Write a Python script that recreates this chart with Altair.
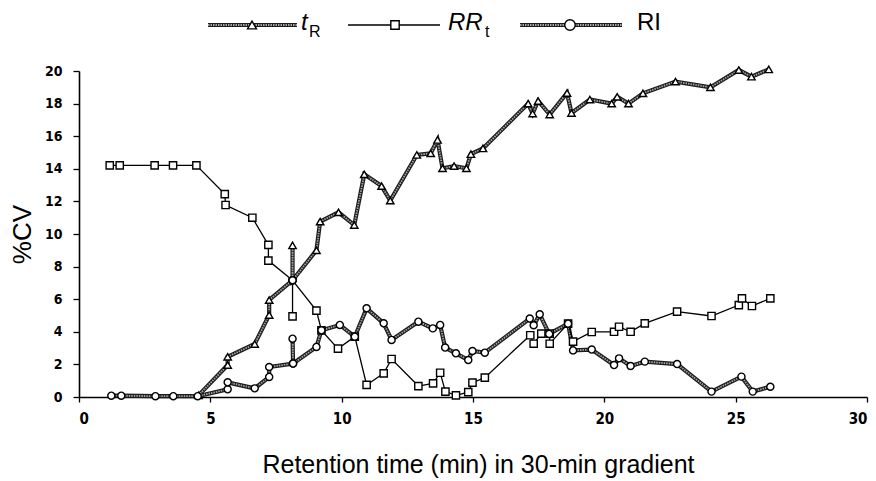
import altair as alt
import pandas as pd

# ---- data (retention time in min, %CV) ----
tr_time = [4.55, 5.66, 5.66, 6.69, 7.24, 7.24, 8.13, 8.13, 8.13, 9.04, 9.18, 9.88,
           10.48, 10.86, 11.52, 11.85, 12.86, 13.39, 13.65, 13.84, 14.28, 14.75,
           14.92, 15.38, 17.1, 17.27, 17.48, 17.92, 18.58, 18.75, 19.45, 20.28,
           20.49, 20.92, 21.47, 22.71, 24.04, 25.12, 25.6, 26.26]
tr_cv = [0.1, 1.96, 2.47, 3.25, 5.03, 5.95, 7.16, 9.3, 7.16, 9.0, 10.76, 11.33,
         10.55, 13.66, 12.94, 12.05, 14.85, 14.95, 15.77, 14.03, 14.17, 14.03,
         14.9, 15.25, 18.0, 17.39, 18.16, 17.33, 18.65, 17.42, 18.25, 18.0,
         18.42, 18.0, 18.63, 19.35, 19.0, 20.06, 19.65, 20.1]

rr_time = [1.17, 1.55, 2.88, 3.58, 4.47, 5.55, 5.58, 6.6, 7.21, 7.21, 8.13, 8.13,
           8.13, 9.04, 9.23, 9.86, 10.5, 10.95, 11.6, 11.9, 12.92, 13.48, 13.75,
           13.95, 14.35, 14.82, 14.98, 15.45, 17.18, 17.31, 17.6, 17.92, 17.92,
           18.62, 18.81, 19.52, 20.37, 20.56, 21.0, 21.54, 22.77, 24.08, 25.12,
           25.24, 25.62, 26.32]
rr_cv = [14.21, 14.21, 14.21, 14.21, 14.21, 12.45, 11.78, 11.0, 9.33, 8.37, 7.16,
         4.95, 7.16, 5.3, 4.09, 2.97, 3.7, 0.74, 1.45, 2.33, 0.67, 0.84, 1.49,
         0.33, 0.1, 0.3, 0.88, 1.19, 3.79, 3.27, 3.89, 3.89, 3.27, 4.5, 3.4,
         3.99, 4.0, 4.31, 4.0, 4.52, 5.24, 4.97, 5.64, 6.05, 5.58, 6.05]

ri_time = [1.23, 1.61, 2.91, 3.59, 4.52, 5.66, 5.66, 6.69, 7.24, 7.24, 8.15, 8.13,
           8.15, 9.04, 9.23, 9.93, 10.5, 10.95, 11.6, 11.9, 12.92, 13.47, 13.75,
           13.94, 14.35, 14.82, 14.98, 15.45, 17.16, 17.31, 17.54, 17.9, 18.62,
           18.81, 19.52, 20.37, 20.56, 21.0, 21.54, 22.77, 24.08, 25.22, 25.65,
           26.32]
ri_cv = [0.08, 0.08, 0.05, 0.05, 0.05, 0.47, 0.9, 0.53, 1.23, 1.84, 2.05, 3.58,
         2.05, 3.07, 4.09, 4.42, 3.7, 5.44, 4.52, 3.5, 4.62, 4.21, 4.42, 3.03,
         2.68, 2.27, 2.82, 2.72, 4.81, 4.4, 5.07, 3.87, 4.5, 2.86, 2.91, 1.96,
         2.37, 1.9, 2.17, 2.02, 0.33, 1.25, 0.33, 0.63]

x_ticks = [0, 5, 10, 15, 20, 25, 30]
y_ticks = [0, 2, 4, 6, 8, 10, 12, 14, 16, 18, 20]
crossing = (8.13, 7.16)  # point where tR and RRt meet, drawn as a circle

rows = []
for name, ts, vs, mk in [("tR", tr_time, tr_cv, "triangle-up"),
                         ("RRt", rr_time, rr_cv, "square"),
                         ("RI", ri_time, ri_cv, "circle")]:
    for i, (t, v) in enumerate(zip(ts, vs)):
        marker = "circle" if (t, v) == crossing else mk
        rows.append(dict(series=name, t=t, cv=v, idx=i, marker=marker))
df = pd.DataFrame(rows)

LBL_FONT = "Liberation Sans Narrow, DejaVu Sans Condensed, Liberation Sans"
TXT_FONT = "Liberation Sans"

x = alt.X("t:Q", scale=alt.Scale(domain=[0, 30], nice=False),
          axis=alt.Axis(values=x_ticks, format="d", tickSize=5, tickWidth=1.3,
                        tickColor="black", domainColor="black", domainWidth=1.6,
                        labelFont=LBL_FONT, labelFontSize=15, labelFontWeight="bold",
                        labelColor="black", labelPadding=9, grid=False,
                        title="Retention time (min) in 30-min gradient",
                        titleFont=TXT_FONT, titleFontSize=25, titleFontWeight="normal",
                        titleColor="black", titleX=399, titleY=67,
                        titleAlign="center", titleBaseline="middle"))
y = alt.Y("cv:Q", scale=alt.Scale(domain=[0, 20], nice=False),
          axis=alt.Axis(values=y_ticks, format="d", tickSize=6, tickWidth=1.3,
                        tickColor="black", domainColor="black", domainWidth=1.6,
                        labelFont=LBL_FONT, labelFontSize=14, labelFontWeight="bold",
                        labelColor="black", labelPadding=11, grid=False,
                        title="%CV", titleFont=TXT_FONT, titleFontSize=26,
                        titleFontWeight="normal", titleColor="black",
                        titleX=-57, titleY=163, titleAlign="center",
                        titleBaseline="middle"))

base = alt.Chart(df)
thick = base.transform_filter("datum.series != 'RRt'")
outer = thick.mark_line(color="#1c1c1c", strokeWidth=4.2).encode(
    x=x, y=y, detail="series:N", order="idx:Q")
inner = thick.mark_line(color="#a5a5a5", strokeWidth=1.8, strokeDash=[1.5, 1]).encode(
    x=x, y=y, detail="series:N", order="idx:Q")
thin = base.transform_filter("datum.series == 'RRt'").mark_line(
    color="black", strokeWidth=1.3).encode(x=x, y=y, order="idx:Q")
pts = base.mark_point(filled=True, fill="white", stroke="black", strokeWidth=1.4,
                      opacity=1).encode(
    x=x, y=y,
    shape=alt.Shape("marker:N", scale=None),
    size=alt.Size("marker:N", scale=alt.Scale(domain=["triangle-up", "square", "circle"],
                                              range=[55, 50, 62]), legend=None))

# ---- hand-built legend above the plot ----
one = pd.DataFrame({"k": [0]})
LY = -46
leg = []
def thick_rule(x1, x2):
    return [alt.Chart(one).mark_rule(color="#1c1c1c", strokeWidth=4.2).encode(
                x=alt.value(x1), x2=alt.value(x2), y=alt.value(LY)),
            alt.Chart(one).mark_rule(color="#a5a5a5", strokeWidth=1.8, strokeDash=[1.5, 1]).encode(
                x=alt.value(x1), x2=alt.value(x2), y=alt.value(LY))]
def sym(xc, shape, size):
    return alt.Chart(one).mark_point(filled=True, fill="white", stroke="black",
                                     strokeWidth=1.4, opacity=1, shape=shape, size=size).encode(
        x=alt.value(xc), y=alt.value(LY))
def txt(xs, yv, s, size, style="normal"):
    return alt.Chart(one).mark_text(text=s, font=TXT_FONT, fontSize=size, fontStyle=style,
                                    align="left", baseline="middle", color="black").encode(
        x=alt.value(xs), y=alt.value(yv))

leg += thick_rule(129, 218)
leg += [sym(173, "triangle-up", 80), txt(222, -48, "t", 24, "italic"), txt(230, -39, "R", 16)]
leg += [alt.Chart(one).mark_rule(color="black", strokeWidth=1.3).encode(
            x=alt.value(269), x2=alt.value(361), y=alt.value(LY)),
        sym(316, "square", 70), txt(369, -48, "RR", 24, "italic"), txt(406, -39, "t", 16)]
leg += thick_rule(441, 543)
leg += [sym(491, "circle", 110), txt(558, -48, "RI", 24)]

chart = alt.layer(outer, inner, thin, pts, *leg).properties(
    width=788, height=326,
    autosize=alt.AutoSizeParams(type="none"),
    padding={"left": 79, "top": 71, "right": 9, "bottom": 84},
    background="white",
).configure_view(stroke=None)

chart.save("out.html", embed_options={"renderer": "svg", "actions": False})
